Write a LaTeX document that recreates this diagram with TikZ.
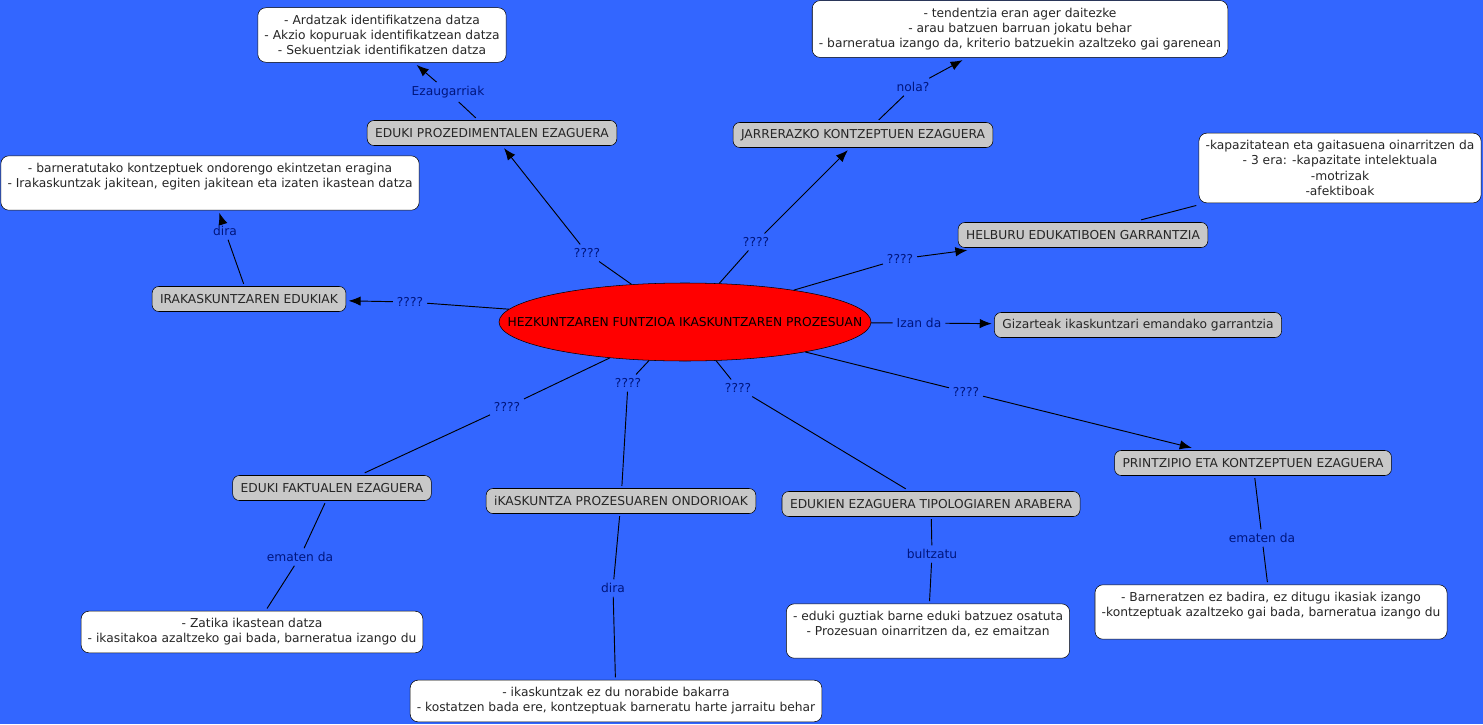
\documentclass[tikz,border=0pt]{standalone}
\usepackage{fontspec}
\setmainfont{DejaVu Sans}
\usetikzlibrary{arrows.meta,shapes.geometric}
\definecolor{mapbg}{RGB}{51,102,255}
\definecolor{linkblue}{RGB}{0,22,125}
\definecolor{conceptgray}{RGB}{200,200,200}

\begin{document}
\begin{tikzpicture}[x=0.75pt,y=-0.75pt,font=\fontsize{9.2}{11.4}\selectfont,>={Latex[length=9pt,width=7pt]},hub/.style={ellipse, draw=black, fill=red, minimum width=279pt, minimum height=58.5pt, inner sep=0pt},concept/.style={draw=black, fill=conceptgray, rounded corners=5pt, text=black!85, inner xsep=6pt, minimum height=18.75pt, outer sep=2pt},note/.style={draw=black, fill=white, rounded corners=6pt, text=black!85, align=center, inner xsep=5pt, inner ysep=5.5pt, outer sep=2pt},link/.style={text=linkblue, inner sep=2pt, outer sep=1pt},arrow/.style={->, line width=0.7pt},line/.style={line width=0.7pt}]
\useasboundingbox (0,0) rectangle (1483,724);
\fill[mapbg] (0,0) rectangle (1483,724);
\node[hub, label={center:HEZKUNTZAREN FUNTZIOA IKASKUNTZAREN PROZESUAN}] (hub) at (685,322) {};
\node[concept] (proz) at (492,133) {EDUKI PROZEDIMENTALEN EZAGUERA};
\node[concept] (jarr) at (863,135) {JARRERAZKO KONTZEPTUEN EZAGUERA};
\node[concept] (helb) at (1083,235) {HELBURU EDUKATIBOEN GARRANTZIA};
\node[concept] (irak) at (249,299) {IRAKASKUNTZAREN EDUKIAK};
\node[concept] (giz) at (1138,325) {Gizarteak ikaskuntzari emandako garrantzia};
\node[concept] (print) at (1253,463) {PRINTZIPIO ETA KONTZEPTUEN EZAGUERA};
\node[concept] (fakt) at (332,488) {EDUKI FAKTUALEN EZAGUERA};
\node[concept] (ondo) at (621,501) {iKASKUNTZA PROZESUAREN ONDORIOAK};
\node[concept] (tipo) at (931,504) {EDUKIEN EZAGUERA TIPOLOGIAREN ARABERA};
\node[note] (prozn) at (382,35) {- Ardatzak identifikatzena datza\\- Akzio kopuruak identifikatzean datza\\- Sekuentziak identifikatzen datza};
\node[note] (jarrn) at (1020,29) {- tendentzia eran ager daitezke\\- arau batzuen barruan jokatu behar\\- barneratua izango da, kriterio batzuekin azaltzeko gai garenean};
\node[note] (irakn) at (210,183) {- barneratutako kontzeptuek ondorengo ekintzetan eragina\\- Irakaskuntzak jakitean, egiten jakitean eta izaten ikastean datza\\\mbox{}};
\node[note] (helbn) at (1340,168) {-kapazitatean eta gaitasuena oinarritzen da\\- 3 era: -kapazitate intelektuala\\-motrizak\\-afektiboak};
\node[note] (faktn) at (252,632) {- Zatika ikastean datza\\- ikasitakoa azaltzeko gai bada, barneratua izango du};
\node[note] (ondon) at (616,701) {- ikaskuntzak ez du norabide bakarra\\- kostatzen bada ere, kontzeptuak barneratu harte jarraitu behar};
\node[note] (tipon) at (928,631) {- eduki guztiak barne eduki batzuez osatuta\\- Prozesuan oinarritzen da, ez emaitzan\\\mbox{}};
\node[note] (printn) at (1271,612) {- Barneratzen ez badira, ez ditugu ikasiak izango\\-kontzeptuak azaltzeko gai bada, barneratua izango du\\\mbox{}};
\node[link] (q1) at (587,253) {????};
\node[link] (q2) at (756,242) {????};
\node[link] (q3) at (900,259) {????};
\node[link] (q4) at (410,302) {????};
\node[link] (izan) at (919,323) {Izan da};
\node[link] (q6) at (507,407) {????};
\node[link] (q7) at (628,383) {????};
\node[link] (q8) at (738,388) {????};
\node[link] (q9) at (966,392) {????};
\node[link] (ezaug) at (448,92) {Ezaugarriak};
\node[link] (nola) at (913,87) {nola?};
\node[link] (dira1) at (225,231) {dira};
\node[link] (emat1) at (300,557) {ematen da};
\node[link] (dira2) at (613,588) {dira};
\node[link] (bultz) at (932,554) {bultzatu};
\node[link] (emat2) at (1262,538) {ematen da};
\draw[line] (hub) -- (q1);\draw[arrow] (q1) -- (proz);
\draw[line] (hub) -- (q2);\draw[arrow] (q2) -- (jarr);
\draw[line] (hub) -- (q3);\draw[arrow] (q3) -- (helb);
\draw[line] (hub) -- (q4);\draw[arrow] (q4) -- (irak);
\draw[line] (hub) -- (izan);\draw[arrow] (izan) -- (giz);
\draw[line] (hub) -- (q6);\draw[line] (q6) -- (fakt);
\draw[line] (hub) -- (q7);\draw[line] (q7) -- (ondo);
\draw[line] (hub) -- (q8);\draw[line] (q8) -- (tipo);
\draw[line] (hub) -- (q9);\draw[arrow] (q9) -- (print);
\draw[line] (proz) -- (ezaug);\draw[arrow] (ezaug) -- (prozn);
\draw[line] (jarr) -- (nola);\draw[arrow] (nola) -- (jarrn);
\draw[line] (helb) -- (helbn);
\draw[line] (irak) -- (dira1);\draw[arrow] (dira1) -- (irakn);
\draw[line] (fakt) -- (emat1);\draw[line] (emat1) -- (faktn);
\draw[line] (ondo) -- (dira2);\draw[line] (dira2) -- (ondon);
\draw[line] (tipo) -- (bultz);\draw[line] (bultz) -- (tipon);
\draw[line] (print) -- (emat2);\draw[line] (emat2) -- (printn);
\end{tikzpicture}
\end{document}
